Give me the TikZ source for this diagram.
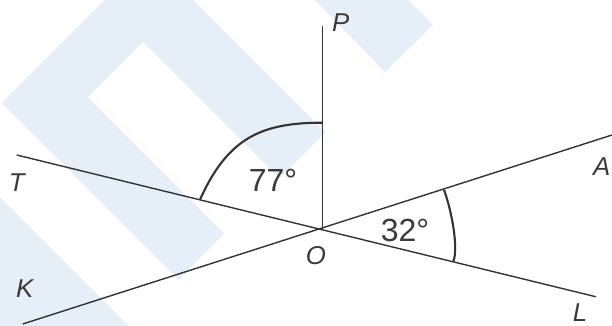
\documentclass[tikz,border=0pt]{standalone}
\usepackage{fontspec}
\setmainfont{Liberation Sans}
\definecolor{wm}{RGB}{230,238,247}
\definecolor{ln}{RGB}{51,51,51}
\definecolor{tx}{RGB}{58,58,58}
\tikzset{
  geo/.style={draw=ln, line width=1.4pt},
  anglearc/.style={draw=ln, line width=2.1pt},
  ptlabel/.style={inner sep=0pt, text=tx, font=\fontsize{25.8}{30}\selectfont\itshape},
  anglelabel/.style={inner sep=0pt, text=tx, font=\fontsize{32}{36}\selectfont},
  mark/.style={fill=wm, draw=none}
}
\begin{document}
\begin{tikzpicture}[x=1pt, y=-1pt]
\useasboundingbox (0,0) rectangle (612,326);
% watermark
\begin{scope}
\clip (0,0) rectangle (612,326);
\fill[wm, even odd rule] (2,103) -- (149,-44) -- (325.5,132.5) -- (279.5,178.5) -- (143,42) -- (87.75,97.25) -- (224.25,233.75) -- (178.5,279.5) -- cycle;
\fill[wm] (315,0) -- (385,72) -- (433,25) -- (408,0) -- cycle;
\fill[wm] (0,197) -- (129,326) -- (0,326) -- cycle;
\end{scope}
% points
\coordinate (O) at (322.3,229.5);
\coordinate (P) at (322.3,26);
\coordinate (T) at (16.7,155);
\coordinate (L) at (595.7,296.7);
\coordinate (A) at (612,135);
\coordinate (K) at (22.7,324);
\coordinate (a1) at (200,199.7);
\coordinate (a2) at (322.3,122.7);
\coordinate (b1) at (444,189.8);
\coordinate (b2) at (453.3,261.7);
% lines
\draw[geo] (O) -- (P);
\draw[geo] (T) -- (L);
\draw[geo] (K) -- (A);
% angle arcs
\draw[anglearc] (a1) .. controls (227.9,137.4) and (262,122.7) .. (a2);
\draw[anglearc] (b1) .. controls (452,212) and (458.5,248) .. (b2);
% labels
\node[ptlabel] (lP) at (340.6,23) {P};
\node[ptlabel] (lT) at (16.7,183) {T};
\node[ptlabel] (lA) at (601.6,167) {A};
\node[ptlabel] (lO) at (316,256) {O};
\node[ptlabel] (lK) at (24.7,289) {K};
\node[ptlabel] (lL) at (580,313) {L};
\node[anglelabel] (l77) at (273,180) {77°};
\node[anglelabel] (l32) at (405,230) {32°};
\end{tikzpicture}
\end{document}
